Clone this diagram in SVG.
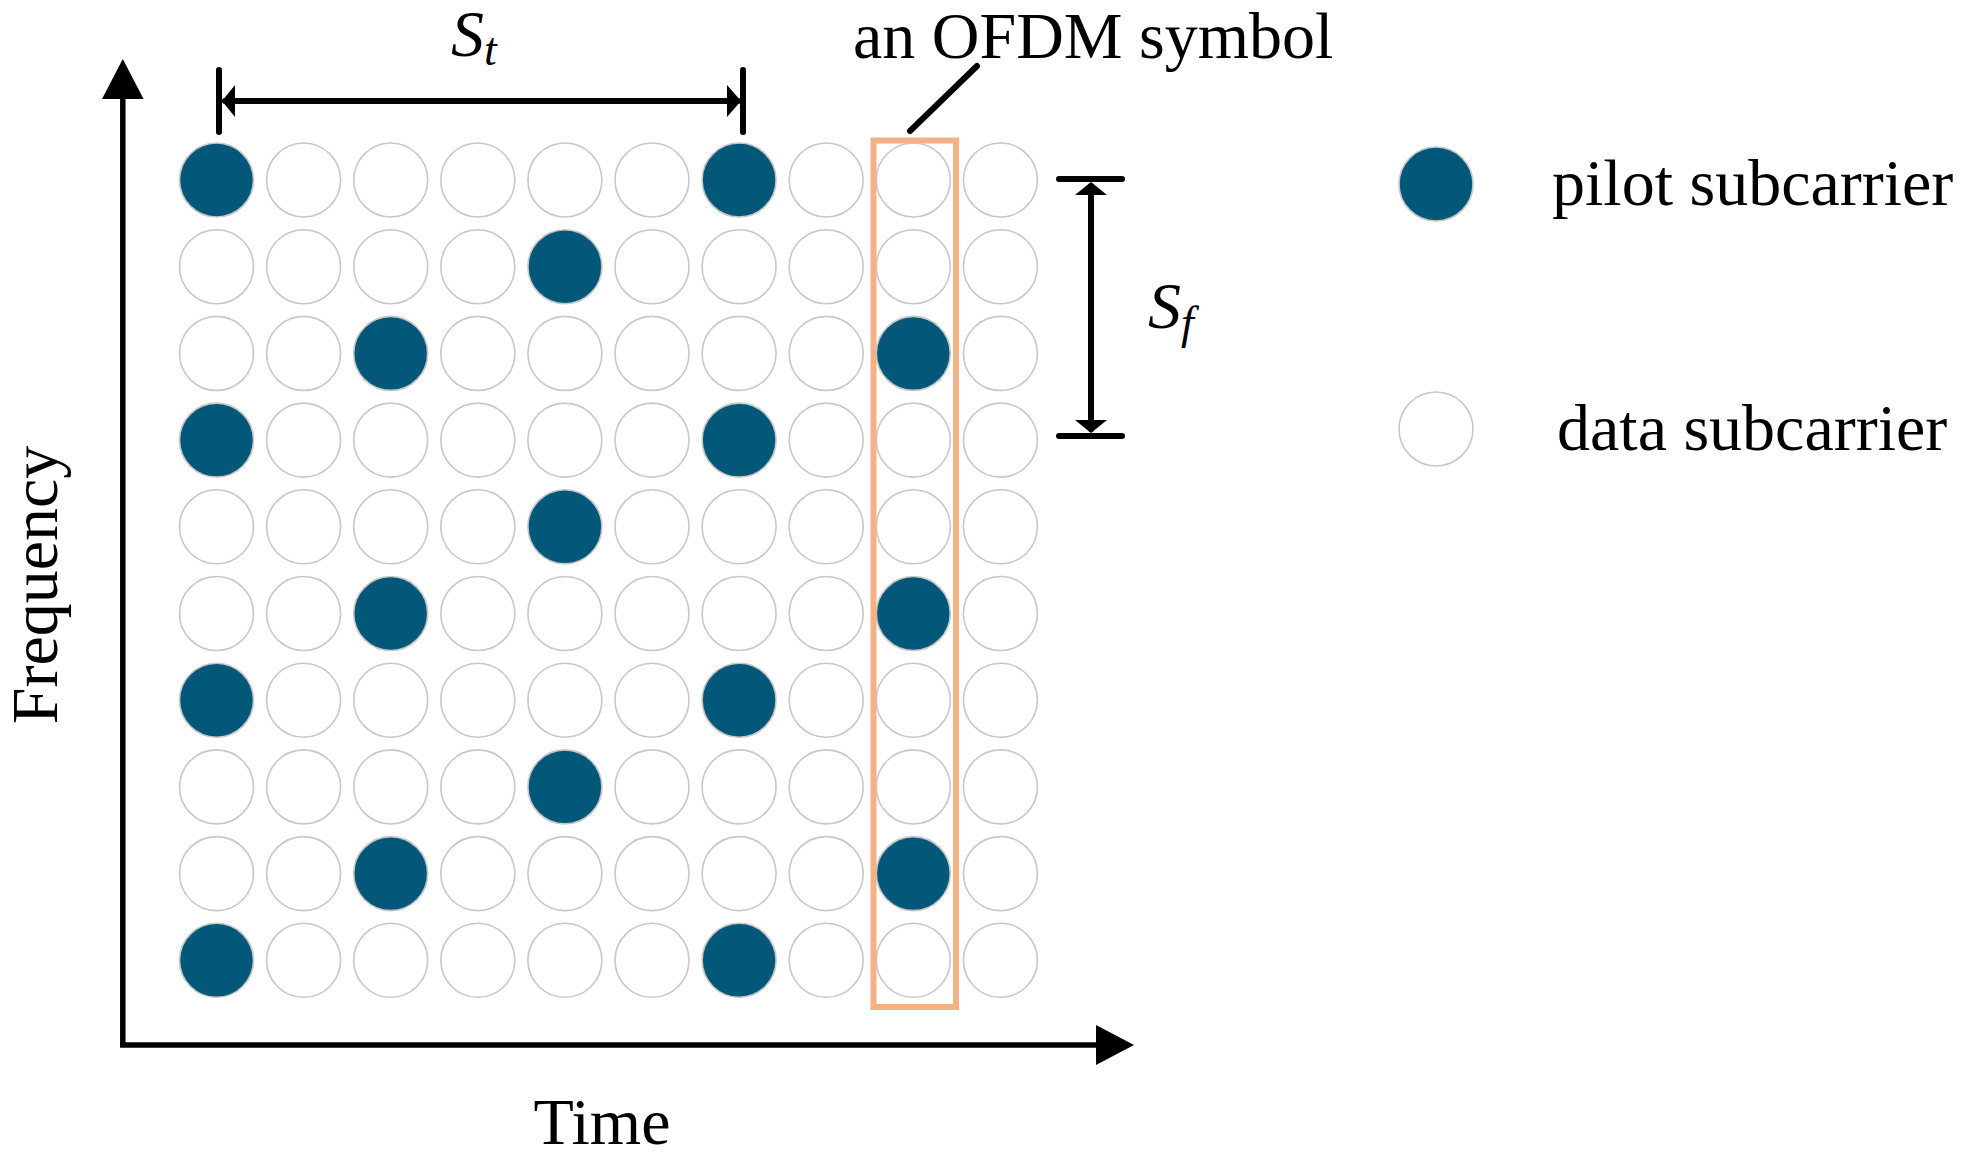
<svg xmlns="http://www.w3.org/2000/svg" width="1972" height="1157" viewBox="0 0 1972 1157">
<style>
.d{fill:#ffffff;stroke:#c8c8c8;stroke-width:1.6}
.p{fill:#03587a;stroke:#c8c8c8;stroke-width:1.6}
.t{font-family:"Liberation Serif","Times New Roman",serif;font-size:66px;fill:#000}
.i{font-style:italic}
.ln{stroke:#000;stroke-width:6;fill:none;stroke-linecap:round}
.ax{stroke:#000;stroke-width:5.5;fill:none}
.ah{fill:#000}
</style>
<rect width="1972" height="1157" fill="#fff"/>
<g id="grid">
<g id="row0"><circle class="p" cx="216.5" cy="180" r="37"/><circle class="d" cx="303.6" cy="180" r="37"/><circle class="d" cx="390.7" cy="180" r="37"/><circle class="d" cx="477.8" cy="180" r="37"/><circle class="d" cx="564.9" cy="180" r="37"/><circle class="d" cx="652" cy="180" r="37"/><circle class="p" cx="739.1" cy="180" r="37"/><circle class="d" cx="826.2" cy="180" r="37"/><circle class="d" cx="913.3" cy="180" r="37"/><circle class="d" cx="1000.4" cy="180" r="37"/></g>
<g id="row1"><circle class="d" cx="216.5" cy="266.7" r="37"/><circle class="d" cx="303.6" cy="266.7" r="37"/><circle class="d" cx="390.7" cy="266.7" r="37"/><circle class="d" cx="477.8" cy="266.7" r="37"/><circle class="p" cx="564.9" cy="266.7" r="37"/><circle class="d" cx="652" cy="266.7" r="37"/><circle class="d" cx="739.1" cy="266.7" r="37"/><circle class="d" cx="826.2" cy="266.7" r="37"/><circle class="d" cx="913.3" cy="266.7" r="37"/><circle class="d" cx="1000.4" cy="266.7" r="37"/></g>
<g id="row2"><circle class="d" cx="216.5" cy="353.4" r="37"/><circle class="d" cx="303.6" cy="353.4" r="37"/><circle class="p" cx="390.7" cy="353.4" r="37"/><circle class="d" cx="477.8" cy="353.4" r="37"/><circle class="d" cx="564.9" cy="353.4" r="37"/><circle class="d" cx="652" cy="353.4" r="37"/><circle class="d" cx="739.1" cy="353.4" r="37"/><circle class="d" cx="826.2" cy="353.4" r="37"/><circle class="p" cx="913.3" cy="353.4" r="37"/><circle class="d" cx="1000.4" cy="353.4" r="37"/></g>
<g id="row3"><circle class="p" cx="216.5" cy="440.1" r="37"/><circle class="d" cx="303.6" cy="440.1" r="37"/><circle class="d" cx="390.7" cy="440.1" r="37"/><circle class="d" cx="477.8" cy="440.1" r="37"/><circle class="d" cx="564.9" cy="440.1" r="37"/><circle class="d" cx="652" cy="440.1" r="37"/><circle class="p" cx="739.1" cy="440.1" r="37"/><circle class="d" cx="826.2" cy="440.1" r="37"/><circle class="d" cx="913.3" cy="440.1" r="37"/><circle class="d" cx="1000.4" cy="440.1" r="37"/></g>
<g id="row4"><circle class="d" cx="216.5" cy="526.8" r="37"/><circle class="d" cx="303.6" cy="526.8" r="37"/><circle class="d" cx="390.7" cy="526.8" r="37"/><circle class="d" cx="477.8" cy="526.8" r="37"/><circle class="p" cx="564.9" cy="526.8" r="37"/><circle class="d" cx="652" cy="526.8" r="37"/><circle class="d" cx="739.1" cy="526.8" r="37"/><circle class="d" cx="826.2" cy="526.8" r="37"/><circle class="d" cx="913.3" cy="526.8" r="37"/><circle class="d" cx="1000.4" cy="526.8" r="37"/></g>
<g id="row5"><circle class="d" cx="216.5" cy="613.5" r="37"/><circle class="d" cx="303.6" cy="613.5" r="37"/><circle class="p" cx="390.7" cy="613.5" r="37"/><circle class="d" cx="477.8" cy="613.5" r="37"/><circle class="d" cx="564.9" cy="613.5" r="37"/><circle class="d" cx="652" cy="613.5" r="37"/><circle class="d" cx="739.1" cy="613.5" r="37"/><circle class="d" cx="826.2" cy="613.5" r="37"/><circle class="p" cx="913.3" cy="613.5" r="37"/><circle class="d" cx="1000.4" cy="613.5" r="37"/></g>
<g id="row6"><circle class="p" cx="216.5" cy="700.2" r="37"/><circle class="d" cx="303.6" cy="700.2" r="37"/><circle class="d" cx="390.7" cy="700.2" r="37"/><circle class="d" cx="477.8" cy="700.2" r="37"/><circle class="d" cx="564.9" cy="700.2" r="37"/><circle class="d" cx="652" cy="700.2" r="37"/><circle class="p" cx="739.1" cy="700.2" r="37"/><circle class="d" cx="826.2" cy="700.2" r="37"/><circle class="d" cx="913.3" cy="700.2" r="37"/><circle class="d" cx="1000.4" cy="700.2" r="37"/></g>
<g id="row7"><circle class="d" cx="216.5" cy="786.9" r="37"/><circle class="d" cx="303.6" cy="786.9" r="37"/><circle class="d" cx="390.7" cy="786.9" r="37"/><circle class="d" cx="477.8" cy="786.9" r="37"/><circle class="p" cx="564.9" cy="786.9" r="37"/><circle class="d" cx="652" cy="786.9" r="37"/><circle class="d" cx="739.1" cy="786.9" r="37"/><circle class="d" cx="826.2" cy="786.9" r="37"/><circle class="d" cx="913.3" cy="786.9" r="37"/><circle class="d" cx="1000.4" cy="786.9" r="37"/></g>
<g id="row8"><circle class="d" cx="216.5" cy="873.6" r="37"/><circle class="d" cx="303.6" cy="873.6" r="37"/><circle class="p" cx="390.7" cy="873.6" r="37"/><circle class="d" cx="477.8" cy="873.6" r="37"/><circle class="d" cx="564.9" cy="873.6" r="37"/><circle class="d" cx="652" cy="873.6" r="37"/><circle class="d" cx="739.1" cy="873.6" r="37"/><circle class="d" cx="826.2" cy="873.6" r="37"/><circle class="p" cx="913.3" cy="873.6" r="37"/><circle class="d" cx="1000.4" cy="873.6" r="37"/></g>
<g id="row9"><circle class="p" cx="216.5" cy="960.3" r="37"/><circle class="d" cx="303.6" cy="960.3" r="37"/><circle class="d" cx="390.7" cy="960.3" r="37"/><circle class="d" cx="477.8" cy="960.3" r="37"/><circle class="d" cx="564.9" cy="960.3" r="37"/><circle class="d" cx="652" cy="960.3" r="37"/><circle class="p" cx="739.1" cy="960.3" r="37"/><circle class="d" cx="826.2" cy="960.3" r="37"/><circle class="d" cx="913.3" cy="960.3" r="37"/><circle class="d" cx="1000.4" cy="960.3" r="37"/></g>
</g>
<g id="ofdm-symbol">
<rect x="873.5" y="140.5" width="82.5" height="866.5" fill="none" stroke="#f4b183" stroke-width="6"/>
<text class="t" x="853" y="58">an OFDM symbol</text>
</g>
<g id="legend-pilot"><circle class="p" cx="1436" cy="184" r="37"/><text class="t" x="1552" y="205">pilot subcarrier</text></g>
<g id="legend-data"><circle class="d" cx="1436" cy="429" r="37"/><text class="t" x="1557" y="450">data subcarrier</text></g>
<g id="connectors">
<line class="ax" x1="122.8" y1="1045" x2="122.8" y2="97"/>
<polygon class="ah" points="122.8,59 102,99 143.6,99"/>
<line class="ax" x1="120" y1="1045" x2="1098" y2="1045"/>
<polygon class="ah" points="1134,1045 1096,1025 1096,1065"/>
<line class="ln" x1="910" y1="131" x2="977" y2="66"/>
<line class="ln" x1="219" y1="70" x2="219" y2="132"/>
<line class="ln" x1="743" y1="70" x2="743" y2="132"/>
<line class="ln" x1="225" y1="101" x2="738" y2="101"/>
<polygon class="ah" points="222,101 235,85 235,117"/>
<polygon class="ah" points="741,101 727,85 727,117"/>
<line class="ln" x1="1059" y1="179" x2="1122" y2="179"/>
<line class="ln" x1="1059" y1="436" x2="1122" y2="436"/>
<line class="ln" x1="1091" y1="186" x2="1091" y2="429"/>
<polygon class="ah" points="1091,182 1075,195 1107,195"/>
<polygon class="ah" points="1091,433 1075,420 1107,420"/>
</g>
<g id="labels">
<text class="t i" x="451" y="56">S<tspan font-size="46" dy="9">t</tspan></text>
<text class="t i" x="1148" y="328">S<tspan font-size="46" dy="10">f</tspan></text>
<text class="t" text-anchor="middle" transform="translate(57,585) rotate(-90)">Frequency</text>
<text class="t" x="602" y="1144" text-anchor="middle">Time</text>
</g>
</svg>
